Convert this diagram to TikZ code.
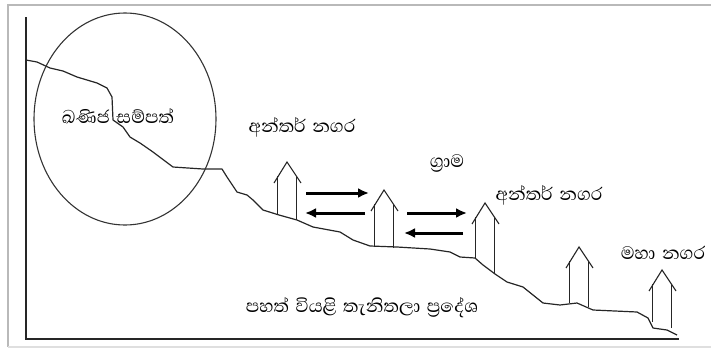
\documentclass[tikz,border=0pt]{standalone}
\usepackage{fontspec}
\newfontfamily\sinhala[Script=Sinhala, WordSpace=1.5]{Abhaya Libre}
\usepackage{tikz}
\usetikzlibrary{arrows.meta}
\tikzstyle{label} = [font=\sinhala\fontsize{23}{28}\selectfont, inner sep=0pt, text=black]
\tikzstyle{frame} = [draw=gray!55, line width=2pt]
\tikzstyle{axis} = [draw=gray!30!black, line width=1.8pt]
\tikzstyle{terrain} = [draw=gray!30!black, line width=1.2pt, line join=round]
\tikzstyle{house} = [draw=gray!30!black, line width=1.1pt]
\tikzstyle{arrow} = [line width=3pt, -{Latex[length=11pt,width=10pt]}]

\begin{document}
\begin{tikzpicture}[x=1pt, y=-1pt]
\useasboundingbox (0,0) rectangle (711,348);
\draw [frame] (712,5) -- (8,5) -- (8,347);
\draw [draw=gray!25, line width=1.5pt] (8,347) -- (712,347);
\draw [axis] (26,17) -- (26,339) -- (679,339);

\draw [terrain] (26,60) -- (37,62) -- (50,68) -- (63,71) -- (77,77) -- (97,83) -- (107,88) -- (112,97) -- (113,120) -- (123,127) -- (130,137) -- (140,143) -- (153,152) -- (173,167) -- (203,169) -- (222,169) -- (227,177) -- (237,192) -- (247,195) -- (253,200) -- (263,210) -- (279,215) -- (297,220) -- (313,227) -- (340,232) -- (353,240) -- (370,246) -- (397,247) -- (430,249) -- (450,252) -- (460,257) -- (475,258) -- (483,265) -- (495,274) -- (507,282) -- (523,287) -- (543,303) -- (560,305) -- (577,303) -- (593,310) -- (637,312) -- (648,318) -- (653,328) -- (667,330) -- (677,335);

\draw [house, draw=gray!40!black] (125,119) ellipse [x radius=91, y radius=106];

\foreach \cx/\ay/\bl/\br in {287/162/215/220, 384/190/247/248, 485/203/258/274, 579/247/303/307, 662/270/322/328} {
  \draw [house] (\cx-13,\ay+21) -- (\cx,\ay) -- (\cx+14,\ay+21);
  \draw [house] (\cx-9.5,\bl) -- (\cx-9.5,\ay+14);
  \draw [house] (\cx+9.5,\br) -- (\cx+9.5,\ay+14);
}

\node (minerals) [label] at (118,116) {ඛණිජ සම්පත්};
\node (town1) [label] at (302,127) {අන්තර් නගර};
\node (village) [label] at (447,163) {ග්‍රාම};
\node (town2) [label] at (549,195) {අන්තර් නගර};
\node (city) [label] at (663,253) {මහා නගර};
\node (plain) [label] at (362,308) {පහත් වියළි තැනිතලා ප්‍රදේශ};

\coordinate (out1) at (306,193);
\coordinate (in1) at (369,193);
\coordinate (out2) at (365,213);
\coordinate (in2) at (305,213);
\coordinate (out3) at (407,213);
\coordinate (in3) at (467,213);
\coordinate (out4) at (463,233);
\coordinate (in4) at (404,233);

\draw [arrow] (out1) -- (in1);
\draw [arrow] (out2) -- (in2);
\draw [arrow] (out3) -- (in3);
\draw [arrow] (out4) -- (in4);
\end{tikzpicture}
\end{document}
